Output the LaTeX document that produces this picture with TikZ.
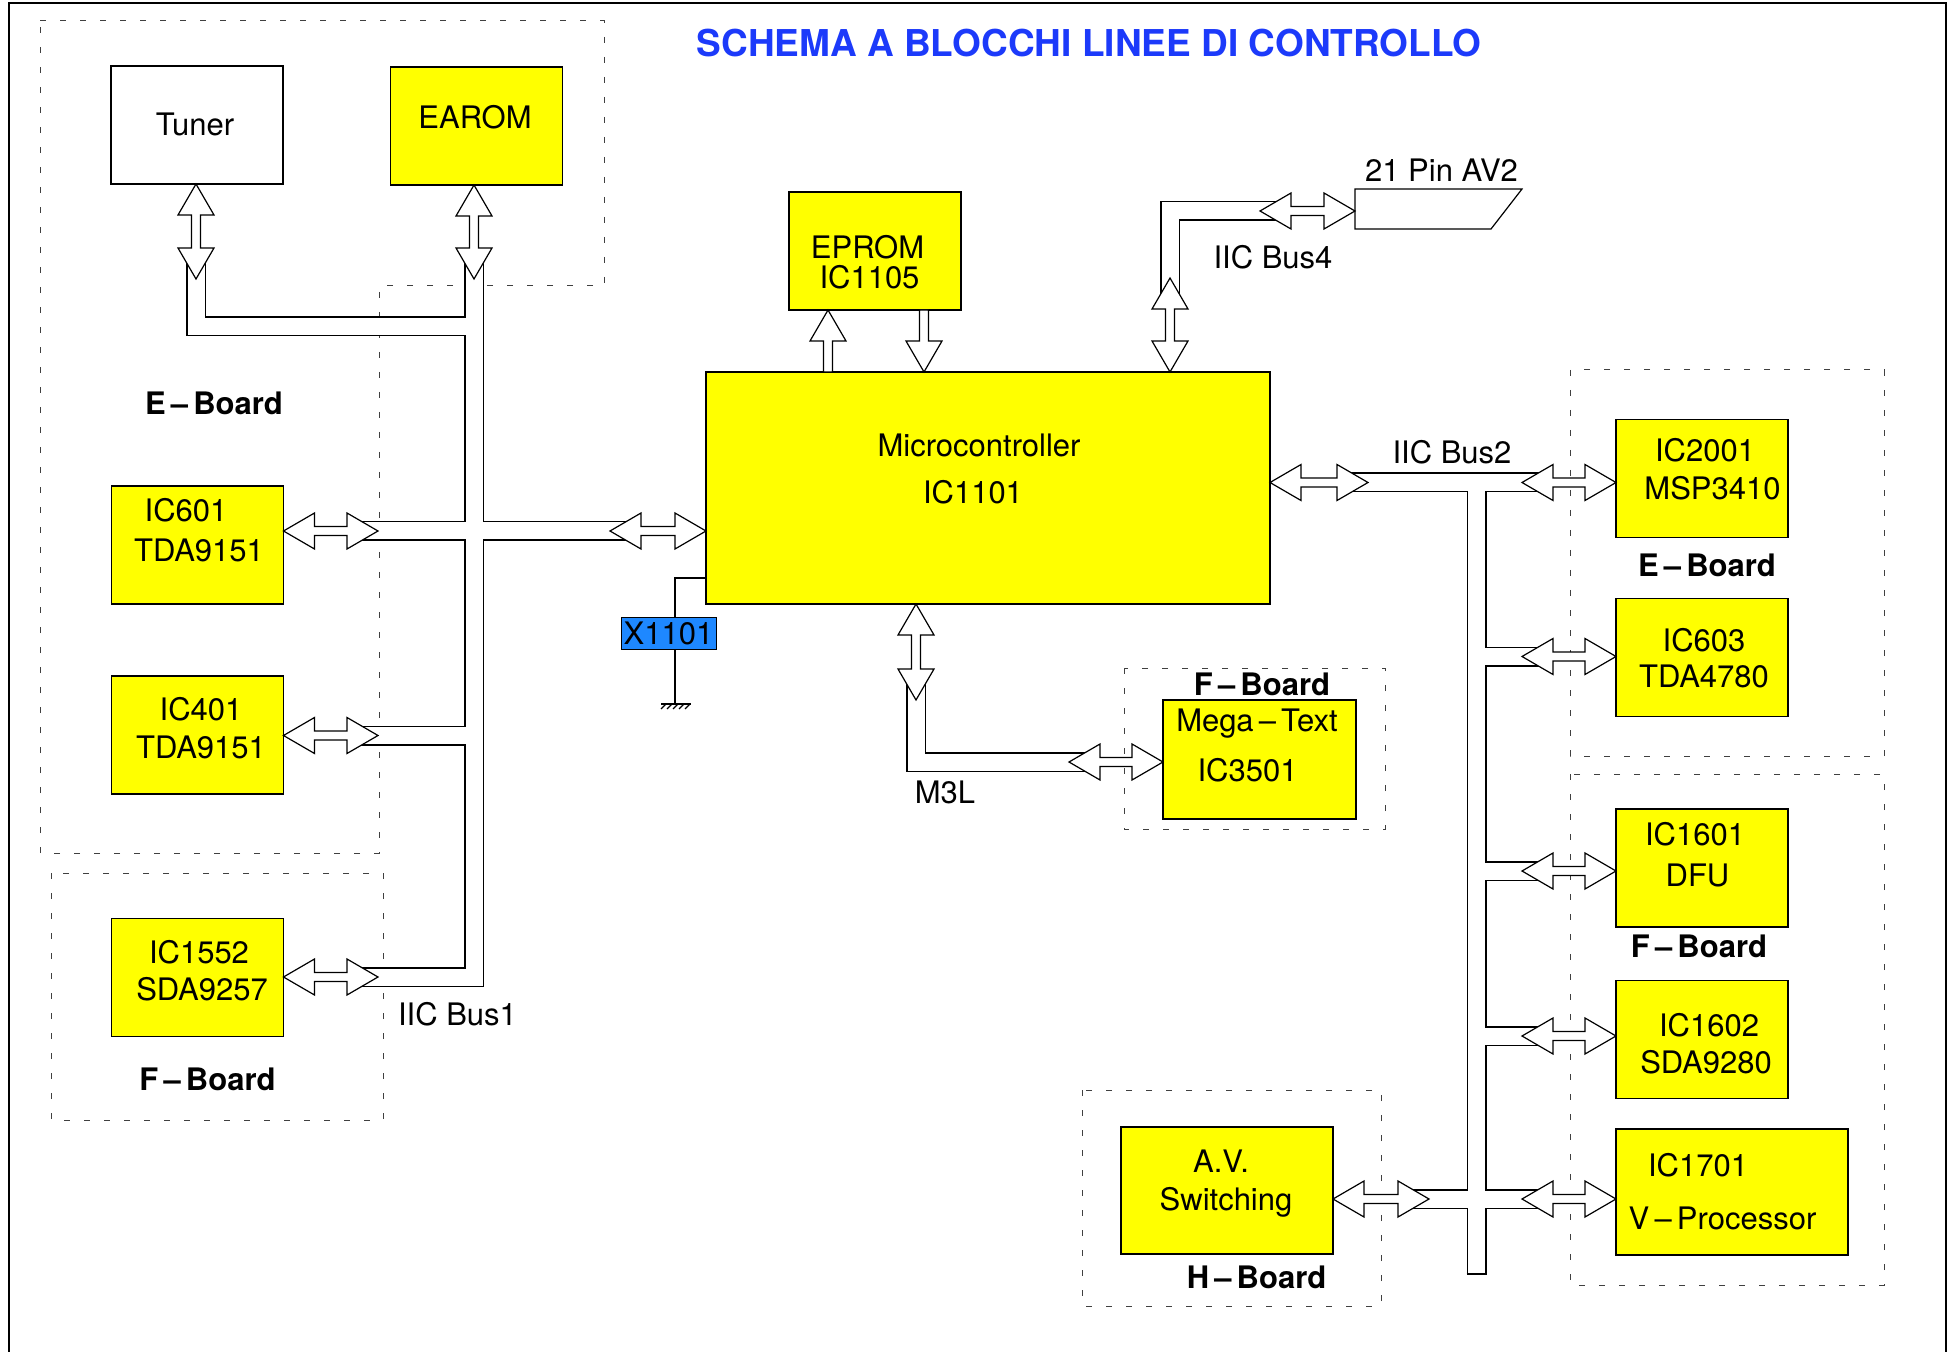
\documentclass[tikz,border=0pt]{standalone}
\usepackage{fontspec}
\setmainfont{TeX Gyre Heros}
\usetikzlibrary{calc}

\definecolor{chipyellow}{RGB}{255,255,0}
\definecolor{titleblue}{RGB}{28,58,250}
\definecolor{xtalblue}{RGB}{30,136,255}

\newcommand\headlen{15.5pt}
\newcommand\headhalf{9pt}
\newcommand\shafthalf{2.25pt}
\newcommand\dash{\,–\,}
% hollow double arrow, #1 left tip, #2 right tip
\newcommand\harrow[2]{
  \draw[fatarrow] let \p1=(#1), \p2=(#2) in
    (\x1,\y1) -- (\x1+\headlen,\y1+\headhalf) -- (\x1+\headlen,\y1+\shafthalf)
    -- (\x2-\headlen,\y1+\shafthalf) -- (\x2-\headlen,\y1+\headhalf) -- (\x2,\y1)
    -- (\x2-\headlen,\y1-\headhalf) -- (\x2-\headlen,\y1-\shafthalf)
    -- (\x1+\headlen,\y1-\shafthalf) -- (\x1+\headlen,\y1-\headhalf) -- cycle ;
}
% hollow double arrow, #1 top tip, #2 bottom tip
\newcommand\varrow[2]{
  \draw[fatarrow] let \p1=(#1), \p2=(#2) in
    (\x1,\y1) -- (\x1+\headhalf,\y1-\headlen) -- (\x1+\shafthalf,\y1-\headlen)
    -- (\x1+\shafthalf,\y2+\headlen) -- (\x1+\headhalf,\y2+\headlen) -- (\x1,\y2)
    -- (\x1-\headhalf,\y2+\headlen) -- (\x1-\shafthalf,\y2+\headlen)
    -- (\x1-\shafthalf,\y1-\headlen) -- (\x1-\headhalf,\y1-\headlen) -- cycle ;
}
% single arrows: #1 top, #2 bottom
\newcommand\tipup[2]{
  \draw[fatarrow] let \p1=(#1), \p2=(#2) in
    (\x1,\y1) -- (\x1+\headhalf,\y1-\headlen) -- (\x1+\shafthalf,\y1-\headlen)
    -- (\x1+\shafthalf,\y2) -- (\x1-\shafthalf,\y2)
    -- (\x1-\shafthalf,\y1-\headlen) -- (\x1-\headhalf,\y1-\headlen) -- cycle ;
}
\newcommand\tipdown[2]{
  \draw[fatarrow] let \p1=(#1), \p2=(#2) in
    (\x1-\shafthalf,\y1) -- (\x1+\shafthalf,\y1) -- (\x1+\shafthalf,\y2+\headlen)
    -- (\x1+\headhalf,\y2+\headlen) -- (\x1,\y2) -- (\x1-\headhalf,\y2+\headlen)
    -- (\x1-\shafthalf,\y2+\headlen) -- cycle ;
}

\tikzset{
  chip/.style={draw, fill=chipyellow, line width=0.6pt, inner sep=0pt, outer sep=0pt,
    minimum width=86pt, minimum height=59pt},
  txt/.style={font=\fontsize{15.5}{18}\selectfont, inner sep=0pt, text height=11pt, text depth=0pt},
  boardtxt/.style={txt, font=\fontsize{15.5}{18}\selectfont\bfseries},
  board/.style={dash pattern=on 3pt off 7pt, line width=0.5pt, black!75},
  pipe/.style={double, double distance=8.5pt, line width=0.75pt, line join=miter},
  fatarrow/.style={draw, fill=white, line width=0.6pt, line join=miter},
  wire/.style={line width=0.6pt}
}

\begin{document}
\begin{tikzpicture}[x=0.5pt, y=-0.5pt]
  \useasboundingbox (0,0) rectangle (1959,1352);
  \draw[line width=1.2pt] (9,3) rectangle (1946,1380);

  \node[txt, font=\fontsize{18.5}{22}\selectfont\bfseries, text=titleblue] (title) at (1089,46)
    {SCHEMA A BLOCCHI LINEE DI CONTROLLO};

  % board areas
  \draw[board] (40,21) -| (604,286) -| (379,853) -- (40,853) -- cycle;
  \draw[board] (51,873) rectangle (383,1120);
  \draw[board] (1124,668) rectangle (1385,829);
  \draw[board] (1570,370) rectangle (1884,756);
  \draw[board] (1570,774) rectangle (1884,1285);
  \draw[board] (1082,1090) rectangle (1381,1306);
  \node[boardtxt] (eboardl) at (214,404) {E\dash Board};
  \node[boardtxt] (fboardl) at (207.5,1079.5) {F\dash Board};
  \node[boardtxt] (fboardm) at (1262,684) {F\dash Board};
  \node[boardtxt] (eboardr) at (1707,565) {E\dash Board};
  \node[boardtxt] (fboardr) at (1699,946) {F\dash Board};
  \node[boardtxt] (hboard) at (1256.5,1277.5) {H\dash Board};

  % blocks
  \node[chip, fill=white] (tuner) at (197,125) {};
  \node[chip] (earom) at (476.5,126) {};
  \node[chip] (eprom) at (875,251) {};
  \node[chip] (ic601) at (197.5,545) {};
  \node[chip] (ic401) at (197.5,735) {};
  \node[chip] (ic1552) at (197.5,977.5) {};
  \node[chip, minimum width=282pt, minimum height=116pt] (micro) at (988,488) {};
  \node[chip, minimum width=96.5pt, minimum height=59.5pt] (mega) at (1259.5,759.5) {};
  \node[chip] (ic2001) at (1702,478.5) {};
  \node[chip] (ic603) at (1702,657.5) {};
  \node[chip] (ic1601) at (1702,868) {};
  \node[chip] (ic1602) at (1702,1039.5) {};
  \node[chip, minimum width=116pt, minimum height=63pt] (ic1701) at (1732,1192) {};
  \node[chip, minimum width=106pt, minimum height=63.5pt] (avsw) at (1227,1190.5) {};

  \node[txt] (tunertxt) at (195,125) {Tuner};
  \node[txt] (earomtxt) at (475,117.5) {EAROM};
  \node[txt] (eproma) at (867.5,248) {EPROM};
  \node[txt] (epromb) at (869.5,278) {IC1105};
  \node[txt] (ic601a) at (186,511) {IC601};
  \node[txt] (ic601b) at (199,551) {TDA9151};
  \node[txt] (ic401a) at (201,709) {IC401};
  \node[txt] (ic401b) at (201,747.5) {TDA9151};
  \node[txt] (ic1552a) at (199,952.5) {IC1552};
  \node[txt] (ic1552b) at (202,989) {SDA9257};
  \node[txt] (microa) at (979,446) {Microcontroller};
  \node[txt] (microb) at (973,492.5) {IC1101};
  \node[txt] (megaa) at (1257,720) {Mega\dash Text};
  \node[txt] (megab) at (1247.5,770) {IC3501};
  \node[txt] (ic2001a) at (1705,451) {IC2001};
  \node[txt] (ic2001b) at (1712.5,489) {MSP3410};
  \node[txt] (ic603a) at (1704,640) {IC603};
  \node[txt] (ic603b) at (1704,676) {TDA4780};
  \node[txt] (ic1601a) at (1695,834) {IC1601};
  \node[txt] (ic1601b) at (1697.5,875) {DFU};
  \node[txt] (ic1602a) at (1709,1025) {IC1602};
  \node[txt] (ic1602b) at (1706,1062.5) {SDA9280};
  \node[txt] (ic1701a) at (1698,1165) {IC1701};
  \node[txt] (ic1701b) at (1722.5,1218) {V\dash Processor};
  \node[txt] (avswa) at (1221,1161) {A.V.};
  \node[txt] (avswb) at (1226,1199) {Switching};

  % crystal
  \coordinate (xtap) at (675,578);
  \coordinate (xgnd) at (675,704);
  \draw[wire] (micro.west |- xtap) -- (xtap) -- (xgnd);
  \draw[wire] ($(xgnd)+(-14,0)$) -- ($(xgnd)+(16,0)$);
  \foreach \k in {0,...,4}
    \draw[wire] ($(xgnd)+(-9+6*\k,0)$) -- ++(-5,5);
  \node[draw, fill=xtalblue, line width=0.5pt, inner sep=0pt, minimum width=47.5pt,
    minimum height=16pt, txt] (x1101) at (668.5,633) {X1101};

  % 21 pin connector
  \coordinate (pin21) at (1355,211);
  \draw[wire] (pin21) -- ++(0,-22) -- ++(167,0) -- ++(-31,40) -- ++(-136,0) -- cycle;
  \node[txt] (pin21txt) at (1441.5,170.5) {21 Pin AV2};

  % bus ends
  \coordinate (tunerbus) at (196,279);
  \coordinate (earombus) at (474,279);
  \coordinate (tunerjoin) at (474,326.5);
  \coordinate (bus601) at (378,531);
  \coordinate (bus401) at (378,735.5);
  \coordinate (bus1552) at (378,977);
  \coordinate (mcbus1) at (610,531);
  \coordinate (mcbus4) at (1170,278);
  \coordinate (av2bus) at (1260,211);
  \coordinate (m3lbus) at (916,700);
  \coordinate (megabus) at (1069,762);
  \coordinate (epromin) at (828,0);
  \coordinate (epromout) at (924,0);
  \coordinate (mcbus2) at (1368,482.5);
  \coordinate (bus2001) at (1522,482.5);
  \coordinate (bus603) at (1522,656.5);
  \coordinate (bus1601) at (1522,871);
  \coordinate (bus1602) at (1522,1036);
  \coordinate (bus1701) at (1522,1199);
  \coordinate (busav) at (1429,1199);
  \coordinate (bus2end) at (1476.5,1274);

  % IIC Bus1
  \draw[pipe] ($(tunerbus)+(0,-24)$) |- (tunerjoin)
    ($(earombus)+(0,-24)$) -- (earombus |- bus1552) -- ($(bus1552)+(-24,0)$)
    ($(bus601)+(-24,0)$) -- ($(mcbus1)+(24,0)$)
    ($(bus401)+(-24,0)$) -- (earombus |- bus401);
  % IIC Bus4 and M3L
  \draw[pipe] ($(mcbus4)+(0,24)$) |- ($(av2bus)+(24,0)$);
  \draw[pipe] ($(m3lbus)+(0,-24)$) |- ($(megabus)+(24,0)$);
  % IIC Bus2
  \draw[pipe] ($(mcbus2)+(-24,0)$) -- ($(bus2001)+(24,0)$)
    (bus2end |- mcbus2) -- (bus2end)
    (bus2end |- bus603) -- ($(bus603)+(24,0)$)
    (bus2end |- bus1601) -- ($(bus1601)+(24,0)$)
    (bus2end |- bus1602) -- ($(bus1602)+(24,0)$)
    ($(busav)+(-24,0)$) -- ($(bus1701)+(24,0)$);
  \draw[line width=0.75pt] ($(bus2end)+(-10,0)$) -- ($(bus2end)+(10,0)$);

  \varrow{tunerbus |- tuner.south}{tunerbus}
  \varrow{earombus |- earom.south}{earombus}
  \harrow{ic601.east |- bus601}{bus601}
  \harrow{ic401.east |- bus401}{bus401}
  \harrow{ic1552.east |- bus1552}{bus1552}
  \harrow{mcbus1}{mcbus1 -| micro.west}
  \tipup{eprom.south -| epromin}{micro.north -| epromin}
  \tipdown{eprom.south -| epromout}{micro.north -| epromout}
  \varrow{mcbus4}{mcbus4 |- micro.north}
  \harrow{av2bus}{pin21}
  \varrow{m3lbus |- micro.south}{m3lbus}
  \harrow{megabus}{megabus -| mega.west}
  \harrow{micro.east |- mcbus2}{mcbus2}
  \harrow{bus2001}{bus2001 -| ic2001.west}
  \harrow{bus603}{bus603 -| ic603.west}
  \harrow{bus1601}{bus1601 -| ic1601.west}
  \harrow{bus1602}{bus1602 -| ic1602.west}
  \harrow{bus1701}{bus1701 -| ic1701.west}
  \harrow{avsw.east |- busav}{busav}

  \node[txt] (bus1lbl) at (457.5,1014) {IIC Bus1};
  \node[txt] (bus2lbl) at (1452,452.5) {IIC Bus2};
  \node[txt] (bus4lbl) at (1273,257.5) {IIC Bus4};
  \node[txt] (m3llbl) at (945,792.5) {M3L};
\end{tikzpicture}
\end{document}
